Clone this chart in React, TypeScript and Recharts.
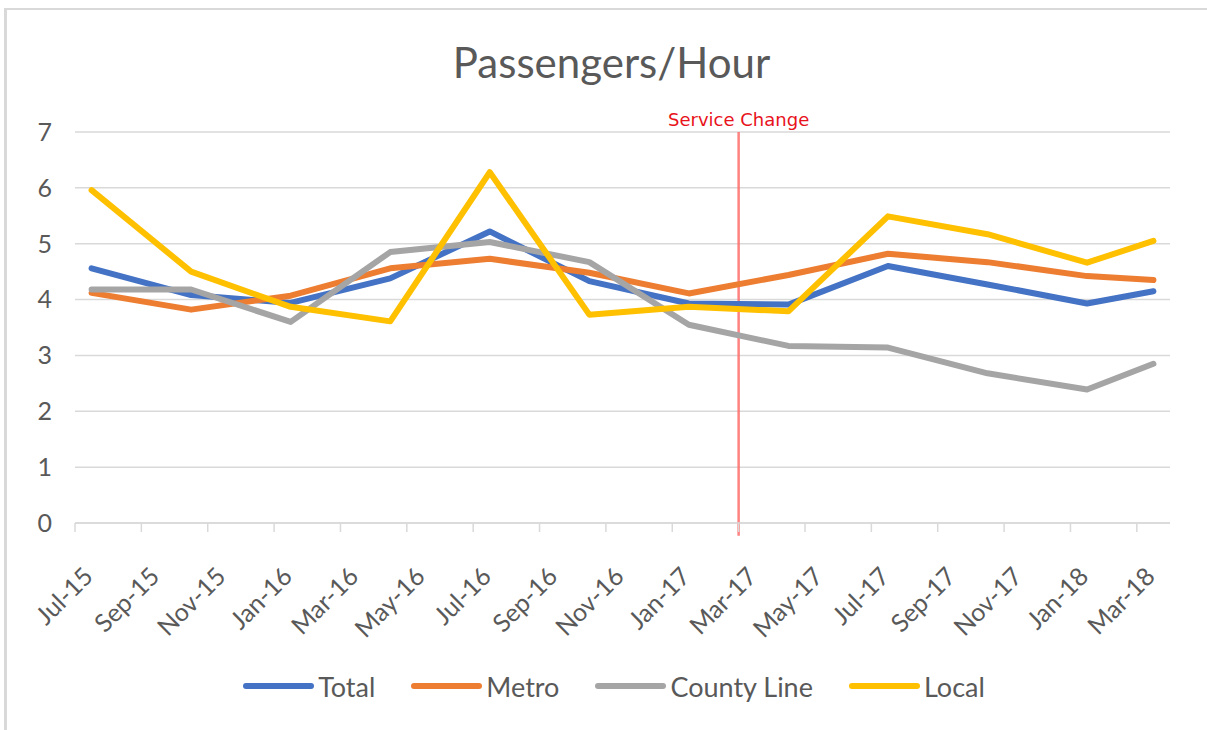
import React from 'react';
import {
  LineChart,
  Line,
  XAxis,
  YAxis,
  CartesianGrid,
  ReferenceLine,
  Legend,
} from 'recharts';

// month labels on the axis (every other month)
const tickLabels = [
  'Jul-15', 'Sep-15', 'Nov-15', 'Jan-16', 'Mar-16', 'May-16', 'Jul-16', 'Sep-16', 'Nov-16',
  'Jan-17', 'Mar-17', 'May-17', 'Jul-17', 'Sep-17', 'Nov-17', 'Jan-18', 'Mar-18',
];

// dates of the readings
const dates = [
  'Jul-15', 'Oct-15', 'Jan-16', 'Apr-16', 'Jul-16', 'Oct-16',
  'Jan-17', 'Apr-17', 'Jul-17', 'Oct-17', 'Jan-18', 'Mar-18',
];

const total = [4.56, 4.08, 3.94, 4.38, 5.22, 4.33, 3.93, 3.91, 4.6, 4.27, 3.93, 4.15];
const metro = [4.12, 3.82, 4.07, 4.56, 4.73, 4.48, 4.11, 4.44, 4.82, 4.67, 4.42, 4.35];
const countyLine = [4.18, 4.18, 3.6, 4.85, 5.03, 4.67, 3.55, 3.17, 3.14, 2.68, 2.39, 2.85];
const local = [5.96, 4.5, 3.87, 3.61, 6.28, 3.73, 3.87, 3.79, 5.49, 5.17, 4.66, 5.05];

const serviceChange = 'Mar-17';
const yTicks = [0, 1, 2, 3, 4, 5, 6, 7];

const series = [
  { key: 'total', name: 'Total', color: '#4472C4' },
  { key: 'metro', name: 'Metro', color: '#ED7D31' },
  { key: 'county', name: 'County Line', color: '#A5A5A5' },
  { key: 'local', name: 'Local', color: '#FFC000' },
];

const monthNames = ['Jan', 'Feb', 'Mar', 'Apr', 'May', 'Jun', 'Jul', 'Aug', 'Sep', 'Oct', 'Nov', 'Dec'];
const start = tickLabels[0];

// months since the first label
const monthIndex = (label: string) => {
  const [mon, yr] = label.split('-');
  const [smon, syr] = start.split('-');
  return (Number(yr) - Number(syr)) * 12 + monthNames.indexOf(mon) - monthNames.indexOf(smon);
};

const data = dates.map((d, i) => ({
  m: monthIndex(d),
  total: total[i],
  metro: metro[i],
  county: countyLine[i],
  local: local[i],
}));

const domain = [-0.5, monthIndex(tickLabels[tickLabels.length - 1]) + 0.5];
const boundaryTicks = tickLabels.map((l) => monthIndex(l) - 0.5);
const labelTicks = tickLabels.map((l) => monthIndex(l));

const FONT = 'Lato, "Open Sans", sans-serif';
const GREY = '#595959';
const GRID = '#D9D9D9';

const MonthTick = (props: any) => {
  const { x, y, payload } = props;
  const label = tickLabels.find((l) => monthIndex(l) === payload.value);
  const ax = x + 3;
  const ay = y + 37;
  return (
    <text
      x={ax}
      y={ay}
      transform={`rotate(-45 ${ax} ${ay})`}
      textAnchor="end"
      fill={GREY}
      fontSize={25}
      fontFamily={FONT}
    >
      {label}
    </text>
  );
};

const LegendContent = () => (
  <div
    style={{
      height: 40,
      display: 'flex',
      justifyContent: 'center',
      alignItems: 'center',
      paddingLeft: 21,
      fontFamily: FONT,
      fontSize: 27,
      color: GREY,
    }}
  >
    {series.map((s, i) => (
      <div
        key={s.key}
        style={{ display: 'flex', alignItems: 'center', marginRight: i < series.length - 1 ? 36 : 0 }}
      >
        <span
          style={{
            display: 'inline-block',
            width: 71,
            height: 6,
            borderRadius: 3,
            background: s.color,
            marginRight: 4,
          }}
        />
        <span>{s.name}</span>
      </div>
    ))}
  </div>
);

const App = () => {
  return (
    <div
      style={{
        position: 'absolute',
        left: 0,
        top: 0,
        width: 1207,
        height: 730,
        background: '#fff',
        overflow: 'hidden',
      }}
    >
      <div
        style={{
          position: 'absolute',
          left: 4,
          top: 8,
          width: 1200,
          height: 720,
          borderTop: `2px solid ${GRID}`,
          borderLeft: `3px solid ${GRID}`,
        }}
      />
      <div
        style={{
          position: 'absolute',
          top: 41,
          left: 0,
          width: 1223,
          textAlign: 'center',
          fontFamily: FONT,
          fontSize: 42,
          lineHeight: '42px',
          color: GREY,
        }}
      >
        Passengers/Hour
      </div>
      <LineChart
        width={1207}
        height={730}
        data={data}
        margin={{ top: 132, right: 37, bottom: 24, left: 0 }}
        style={{ position: 'absolute', left: 0, top: 0 }}
      >
        <CartesianGrid vertical={false} stroke={GRID} strokeWidth={1.5} />
        {/* labels sit in the middle of each month */}
        <XAxis
          xAxisId="axis1"
          dataKey="m"
          type="number"
          domain={domain}
          ticks={labelTicks}
          interval={0}
          axisLine={false}
          tickLine={false}
          height={133}
          tick={<MonthTick />}
        />
        {/* tick marks on month boundaries */}
        <XAxis
          xAxisId="axis0"
          dataKey="m"
          type="number"
          domain={domain}
          ticks={boundaryTicks}
          interval={0}
          tickFormatter={() => ''}
          tickSize={9}
          height={10}
          axisLine={{ stroke: GRID, strokeWidth: 1.5 }}
          tickLine={{ stroke: GRID, strokeWidth: 1.5 }}
        />
        <YAxis
          domain={[0, 7]}
          ticks={yTicks}
          width={75}
          axisLine={false}
          tickLine={false}
          tickMargin={17}
          tick={{ fill: GREY, fontSize: 25, fontFamily: FONT }}
        />
        <Legend verticalAlign="bottom" wrapperStyle={{ left: 0, width: 1207 }} content={<LegendContent />} />
        <ReferenceLine
          xAxisId="axis0"
          segment={[
            { x: monthIndex(serviceChange) - 0.5, y: 7 },
            { x: monthIndex(serviceChange) - 0.5, y: -0.23 },
          ]}
          ifOverflow="visible"
          stroke="#FF6B6B"
          strokeOpacity={0.85}
          strokeWidth={2.5}
          label={{
            value: 'Service Change',
            position: 'top',
            fill: '#E8121A',
            fontSize: 18,
            fontFamily: '"DejaVu Sans", Verdana, sans-serif',
            offset: 6,
          }}
        />
        {series.map((s) => (
          <Line
            key={s.key}
            xAxisId="axis0"
            name={s.name}
            dataKey={s.key}
            stroke={s.color}
            strokeWidth={6}
            strokeLinecap="round"
            strokeLinejoin="round"
            dot={false}
            isAnimationActive={false}
          />
        ))}
      </LineChart>
    </div>
  );
};

export default App;
